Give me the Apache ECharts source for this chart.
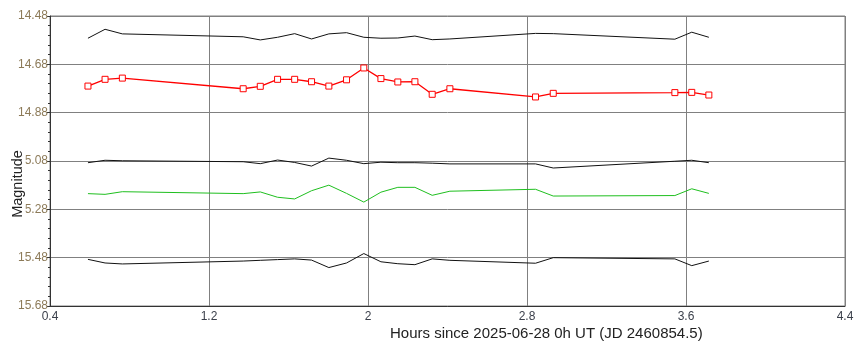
<!DOCTYPE html>
<html><head><meta charset="utf-8">
<script src="https://cdn.jsdelivr.net/npm/echarts@6/dist/echarts.min.js"></script>
<style>html,body{margin:0;padding:0;background:#fff}#c{width:867px;height:364px}</style>
</head><body><div id="c"></div>
<script>
var hours = [0.591,0.677,0.764,1.372,1.458,1.545,1.631,1.716,1.803,1.892,1.979,2.065,2.150,2.236,2.323,2.412,2.843,2.932,3.544,3.629,3.715];
var compTop = [14.572,14.535,14.554,14.566,14.579,14.568,14.553,14.575,14.554,14.549,14.568,14.572,14.571,14.563,14.578,14.575,14.552,14.553,14.576,14.547,14.568];
var target = [14.770,14.742,14.737,14.781,14.771,14.742,14.742,14.752,14.770,14.744,14.695,14.739,14.753,14.752,14.804,14.781,14.815,14.800,14.797,14.796,14.807];
var compMid = [15.087,15.077,15.079,15.083,15.091,15.076,15.086,15.101,15.068,15.077,15.091,15.085,15.087,15.087,15.089,15.092,15.092,15.109,15.081,15.077,15.087];
var checkGreen = [15.215,15.218,15.207,15.215,15.208,15.230,15.237,15.203,15.180,15.214,15.250,15.209,15.189,15.189,15.222,15.205,15.197,15.225,15.223,15.195,15.214];
var compBottom = [15.487,15.502,15.506,15.494,15.491,15.488,15.485,15.490,15.521,15.502,15.463,15.497,15.505,15.509,15.485,15.491,15.503,15.480,15.485,15.513,15.494];
var xTicks = [0.4,1.2,2.0,2.8,3.6,4.4];
var yTicks = [14.48,14.68,14.88,15.08,15.28,15.48,15.68];
var xTitle = 'Hours since 2025-06-28 0h UT (JD 2460854.5)';
var yTitle = 'Magnitude';

function pairs(v){ return hours.map(function(h,i){ return [h, v[i]]; }); }
function blackLine(v){
  return {type:'line', data:pairs(v), symbol:'none', silent:true,
    lineStyle:{color:'#111', width:1}, animation:false};
}
var chart = echarts.init(document.getElementById('c'), null, {renderer:'canvas'});
chart.setOption({
  backgroundColor:'#fff',
  animation:false,
  grid:{left:50, right:22, top:16, bottom:58, show:true, borderColor:'#808080', borderWidth:1},
  xAxis:{type:'value', min:0.4, max:4.4, interval:0.8,
    axisLine:{lineStyle:{color:'#333', width:1}},
    axisTick:{show:false},
    splitLine:{show:true, lineStyle:{color:'#808080', width:1}},
    axisLabel:{color:'#3a3f4a', fontSize:12, fontFamily:'Liberation Sans, Arial', margin:5,
      formatter:function(v){ return String(Math.round(v*10)/10); }}
  },
  yAxis:{type:'value', inverse:true, min:14.48, max:15.68, interval:0.2,
    axisLine:{show:true, lineStyle:{color:'#333', width:1}},
    axisTick:{show:true, length:3, lineStyle:{color:'#333'}},
    minorTick:{show:true, splitNumber:5, length:2, lineStyle:{color:'#333'}},
    splitLine:{show:true, lineStyle:{color:'#808080', width:1}},
    axisLabel:{color:'#8c7a58', fontSize:12, fontFamily:'Liberation Sans, Arial', margin:2,
      formatter:function(v){ return v.toFixed(2); }}
  },
  graphic:[
    {type:'text', left:390, top:326, z:100, style:{text:xTitle, fill:'#222', font:'15px "Liberation Sans", Arial'}},
    {type:'text', x:18, y:184, rotation:Math.PI/2, z:100,
      style:{text:yTitle, fill:'#222', font:'14.5px "Liberation Sans", Arial', align:'center', verticalAlign:'middle', backgroundColor:'#fff'}}
  ],
  series:[
    blackLine(compTop),
    {type:'line', data:pairs(target), symbol:'rect', symbolSize:6, silent:true,
      lineStyle:{color:'#ff0000', width:1.3},
      itemStyle:{color:'#ffffff', borderColor:'#ff0000', borderWidth:1}},
    blackLine(compMid),
    {type:'line', data:pairs(checkGreen), symbol:'none', silent:true,
      lineStyle:{color:'#1fbf1f', width:1}},
    blackLine(compBottom)
  ]
});
</script></body></html>
